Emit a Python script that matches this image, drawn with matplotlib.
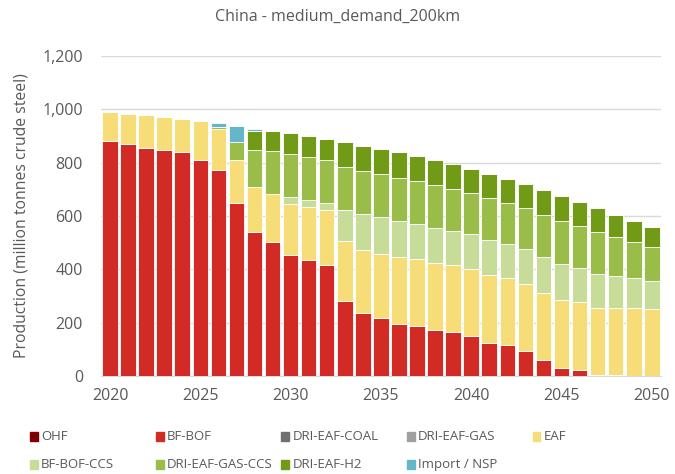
import matplotlib
matplotlib.use('Agg')
import matplotlib.pyplot as plt
from matplotlib.patches import Rectangle
from matplotlib.ticker import FuncFormatter
import numpy as np

plt.rcParams['font.family'] = ['Open Sans', 'DejaVu Sans']

YEARS = list(range(2020, 2051))

# Production by route, million tonnes crude steel
OHF = [0] * 31
BF_BOF = [882, 869, 854, 846, 839, 810, 772, 650, 539, 502,
          454, 434, 416, 282, 236, 219, 194, 186, 171, 164,
          151, 125, 116, 94, 59, 30, 22, 4, 3, 1, 0]
DRI_EAF_COAL = [0] * 31
DRI_EAF_GAS = [0] * 31
EAF = [109, 115, 123, 124, 123, 145, 153, 160, 168, 180,
       190, 198, 205, 223, 236, 240, 252, 253, 251, 251,
       250, 252, 253, 251, 251, 254, 255, 252, 252, 254, 250]
BF_BOF_CCS = [0, 0, 0, 0, 0, 0, 0, 0, 0, 0,
              27, 28, 28, 117, 135, 137, 135, 131, 133, 129,
              131, 133, 126, 130, 135, 136, 129, 128, 120, 112, 106]
DRI_EAF_GAS_CCS = [0, 0, 0, 0, 0, 0, 7, 69, 140, 163,
                   161, 161, 161, 162, 163, 161, 161, 161, 161, 157,
                   155, 157, 155, 156, 159, 162, 155, 157, 146, 135, 128]
DRI_EAF_H2 = [0, 0, 0, 0, 0, 0, 0, 0, 73, 75,
              78, 79, 77, 92, 94, 95, 97, 93, 93, 93,
              89, 90, 89, 88, 92, 93, 91, 88, 83, 79, 74]
IMPORT_NSP = [0, 0, 0, 0, 0, 0, 15, 58, 6, 0,
              0, 0, 0, 0, 0, 0, 0, 0, 0, 0,
              0, 0, 0, 0, 0, 0, 0, 0, 0, 0, 0]

SERIES = [
    ('OHF', OHF, '#7f0000'),
    ('BF-BOF', BF_BOF, '#d22b26'),
    ('DRI-EAF-COAL', DRI_EAF_COAL, '#707070'),
    ('DRI-EAF-GAS', DRI_EAF_GAS, '#a0a0a0'),
    ('EAF', EAF, '#f7dd77'),
    ('BF-BOF-CCS', BF_BOF_CCS, '#c8dc9a'),
    ('DRI-EAF-GAS-CCS', DRI_EAF_GAS_CCS, '#99bd48'),
    ('DRI-EAF-H2', DRI_EAF_H2, '#719a17'),
    ('Import / NSP', IMPORT_NSP, '#64b6c9'),
]

TEXT = '#595959'

fig = plt.figure(figsize=(6.75, 4.74), dpi=100)
ax = fig.add_axes([0.1496, 0.2068, 0.8294, 0.6751])

bottom = np.zeros(len(YEARS))
for name, vals, color in SERIES:
    vals = np.array(vals, dtype=float)
    ax.bar(YEARS, vals, bottom=bottom, width=0.86, color=color,
           edgecolor='white', linewidth=0.6, zorder=3)
    bottom += vals

ax.set_xlim(2019.5, 2050.5)
ax.set_ylim(0, 1200)
ax.set_yticks(range(0, 1201, 200))
ax.yaxis.set_major_formatter(FuncFormatter(lambda v, p: f'{int(v):,}'))
ax.set_xticks(range(2020, 2051, 5))
ax.grid(axis='y', color='#d9d9d9', linewidth=1, zorder=0)
for s in ['top', 'right', 'left']:
    ax.spines[s].set_visible(False)
ax.spines['bottom'].set_color('#d9d9d9')
ax.tick_params(length=0, colors=TEXT, labelsize=11.5)
ax.tick_params(axis='x', pad=9)
ax.tick_params(axis='y', pad=13)

ax.set_ylabel('Production (million tonnes crude steel)', color=TEXT, fontsize=11.3,
              labelpad=9)
fig.text(0.5, 0.965, 'China - medium_demand_200km', ha='center', va='center',
         color=TEXT, fontsize=11.5)

# legend laid out in a 5 column grid like the original
for i, (name, vals, color) in enumerate(SERIES):
    col, row = i % 5, i // 5
    x = 0.045 + col * 0.186
    y = 0.080 - row * 0.059
    fig.patches.append(Rectangle((x, y - 0.010), 0.0115, 0.019, color=color,
                                 transform=fig.transFigure, figure=fig))
    fig.text(x + 0.016, y, name, ha='left', va='center', color=TEXT, fontsize=9.5)

fig.savefig('out.png', dpi=100)
